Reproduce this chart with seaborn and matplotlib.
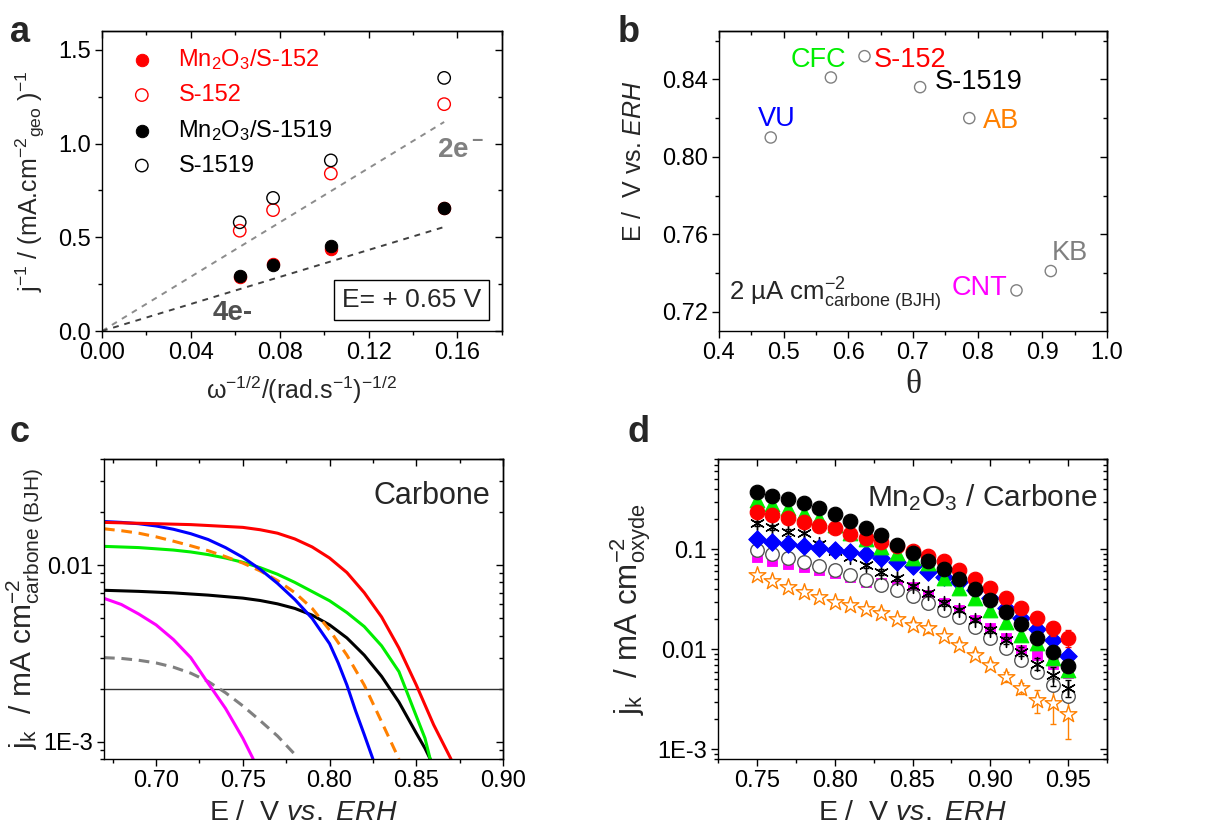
import seaborn as sns
import matplotlib.pyplot as plt
from matplotlib.ticker import MultipleLocator, LogLocator, FixedLocator, FixedFormatter, NullFormatter

sns.set_theme(style="ticks")
plt.rcParams["font.family"] = ["Liberation Sans", "DejaVu Sans"]
plt.rcParams.update({
    "mathtext.fontset": "custom",
    "mathtext.rm": "Liberation Sans",
    "mathtext.it": "Liberation Sans:italic",
    "mathtext.bf": "Liberation Sans:bold",
    "axes.linewidth": 1.0,
    "axes.edgecolor": "black",
    "xtick.color": "black",
    "ytick.color": "black",
})

TICK_FS = 17

# ---------------- (a) Koutecky-Levich ----------------
kl_x = [0.062, 0.077, 0.103, 0.154]
mn_s152 = [0.29, 0.355, 0.44, 0.655]
s152 = [0.535, 0.645, 0.84, 1.21]
mn_s1519 = [0.295, 0.35, 0.455, 0.655]
s1519 = [0.58, 0.71, 0.91, 1.35]
theory_x = [0.0, 0.154]
theory_2e = [0.0, 1.115]
theory_4e = [0.0, 0.555]

# ---------------- (b) onset potential vs theta ----------------
carbons = ["VU", "CFC", "S-152", "S-1519", "AB", "CNT", "KB"]
theta = [0.48, 0.573, 0.625, 0.711, 0.787, 0.86, 0.913]
e_onset = [0.810, 0.841, 0.852, 0.836, 0.820, 0.731, 0.741]
carbon_colors = ["#0000FF", "#00EE00", "#FF0000", "black", "#FF8000", "#FF00FF", "#808080"]

# ---------------- (c) Tafel curves, carbons ----------------
red_E = [0.67, 0.68, 0.69, 0.70, 0.71, 0.72, 0.73, 0.74, 0.75, 0.76, 0.77, 0.78, 0.79,
         0.80, 0.81, 0.82, 0.83, 0.84, 0.85, 0.86, 0.87]
red_j = [0.0175, 0.0174, 0.0173, 0.0172, 0.0171, 0.0170, 0.0168, 0.0166, 0.0164, 0.0159,
         0.0152, 0.0141, 0.0127, 0.0110, 0.0091, 0.0070, 0.0051, 0.0034, 0.0021, 0.00125, 0.0008]
blue_E = [0.67, 0.68, 0.69, 0.70, 0.71, 0.72, 0.73, 0.74, 0.75, 0.76, 0.77, 0.78, 0.79,
          0.80, 0.805, 0.81, 0.815, 0.82, 0.825]
blue_j = [0.0177, 0.0175, 0.0172, 0.0167, 0.0160, 0.0151, 0.0140, 0.0126, 0.0111, 0.0095,
          0.0079, 0.0064, 0.0050, 0.0036, 0.0028, 0.0021, 0.0015, 0.0011, 0.0008]
orange_E = [0.67, 0.68, 0.69, 0.70, 0.71, 0.72, 0.73, 0.74, 0.75, 0.76, 0.77, 0.78, 0.79,
            0.80, 0.81, 0.82, 0.83, 0.84]
orange_j = [0.0161, 0.0157, 0.0152, 0.0145, 0.0137, 0.0129, 0.0121, 0.0112, 0.0103, 0.0093,
            0.0082, 0.0070, 0.0057, 0.0043, 0.0031, 0.0021, 0.0013, 0.0008]
green_E = [0.67, 0.68, 0.69, 0.70, 0.71, 0.72, 0.73, 0.74, 0.75, 0.76, 0.77, 0.78, 0.79,
           0.80, 0.81, 0.82, 0.83, 0.84, 0.85, 0.855, 0.858]
green_j = [0.0128, 0.0127, 0.0126, 0.0124, 0.0122, 0.0119, 0.0115, 0.0110, 0.0104, 0.0097,
           0.0089, 0.0080, 0.0071, 0.0063, 0.0054, 0.0045, 0.0035, 0.0025, 0.0014, 0.00105, 0.0008]
black_E = [0.67, 0.69, 0.71, 0.73, 0.75, 0.76, 0.77, 0.78, 0.79, 0.80, 0.81, 0.82, 0.83,
           0.84, 0.85, 0.855, 0.858]
black_j = [0.00722, 0.00712, 0.00698, 0.00678, 0.00652, 0.00632, 0.00605, 0.00570, 0.00522,
           0.00460, 0.00388, 0.00310, 0.00235, 0.00168, 0.00112, 0.00092, 0.0008]
magenta_E = [0.670, 0.680, 0.690, 0.700, 0.710, 0.720, 0.730, 0.740, 0.750, 0.756]
magenta_j = [0.0065, 0.0060, 0.0053, 0.0046, 0.0038, 0.0030, 0.00215, 0.00155, 0.00105, 0.0008]
grey_E = [0.670, 0.680, 0.690, 0.700, 0.710, 0.720, 0.730, 0.740, 0.750, 0.760, 0.770, 0.780]
grey_j = [0.0030, 0.00297, 0.00290, 0.00280, 0.00265, 0.00245, 0.00220, 0.00190, 0.00160,
          0.00132, 0.00108, 0.00085]
j_threshold = 0.002

# ---------------- (d) Tafel points, Mn2O3 / carbons ----------------
E_d = [0.75, 0.76, 0.77, 0.78, 0.79, 0.80, 0.81, 0.82, 0.83, 0.84, 0.85,
       0.86, 0.87, 0.88, 0.89, 0.90, 0.91, 0.92, 0.93, 0.94, 0.95]
d_black = [0.378, 0.344, 0.319, 0.293, 0.257, 0.224, 0.192, 0.162, 0.140, 0.110, 0.0926,
           0.077, 0.063, 0.0505, 0.0398, 0.0311, 0.0234, 0.0178, 0.0129, 0.0095, 0.0068]
d_red = [0.238, 0.219, 0.204, 0.189, 0.172, 0.162, 0.1435, 0.131, 0.119, 0.108, 0.097,
         0.0865, 0.077, 0.0616, 0.050, 0.0407, 0.0324, 0.0257, 0.0204, 0.0162, 0.0130]
d_red_err = [0.02, 0.018, 0.016, 0.015, 0.013, 0.012, 0.011, 0.010, 0.009, 0.008, 0.007,
             0.006, 0.006, 0.005, 0.004, 0.004, 0.004, 0.003, 0.003, 0.0025, 0.0025]
d_green = [0.311, 0.284, 0.261, 0.229, 0.204, 0.175, 0.1445, 0.126, 0.106, 0.0912, 0.0813,
           0.0724, 0.0513, 0.0407, 0.0324, 0.0247, 0.0189, 0.0139, 0.0115, 0.0081, 0.0062]
d_aster = [0.182, 0.166, 0.148, 0.145, 0.113, 0.0963, 0.0845, 0.0697, 0.0598, 0.0513, 0.043,
           0.0363, 0.0293, 0.0247, 0.0197, 0.0156, 0.0124, 0.0095, 0.0072, 0.0055, 0.0041]
d_aster_err = [0.01, 0.01, 0.012, 0.04, 0.008, 0.006, 0.005, 0.004, 0.004, 0.003, 0.002,
               0.002, 0.002, 0.001, 0.001, 0.001, 0.001, 0.001, 0.001, 0.0012, 0.0008]
d_blue = [0.126, 0.1175, 0.112, 0.108, 0.104, 0.0985, 0.0948, 0.0891, 0.0826, 0.0753, 0.0681,
          0.0598, 0.0533, 0.0475, 0.0392, 0.0324, 0.0257, 0.0204, 0.0158, 0.0124, 0.0086]
d_open = [0.0985, 0.0891, 0.0826, 0.0753, 0.0681, 0.0621, 0.0554, 0.0494, 0.044, 0.0392, 0.0341,
          0.0293, 0.0247, 0.0212, 0.0169, 0.0129, 0.0102, 0.0078, 0.0060, 0.0044, 0.0034]
d_magenta = [0.0845, 0.0764, 0.0714, 0.0671, 0.0621, 0.0575, 0.0533, 0.0475, 0.0457, 0.0440, 0.0420,
             0.0349, 0.0288, 0.0247, 0.0197, 0.0162, 0.0129, 0.0098, 0.0088, 0.0072, 0.0058]
d_star = [0.0554, 0.0486, 0.0423, 0.0377, 0.0331, 0.030, 0.0278, 0.0251, 0.0233, 0.020, 0.0175,
          0.0162, 0.0136, 0.0110, 0.0088, 0.0070, 0.0053, 0.0041, 0.0031, 0.0029, 0.00226]
d_star_err = [0.003, 0.003, 0.003, 0.002, 0.002, 0.002, 0.002, 0.002, 0.002, 0.0015, 0.0015,
              0.0015, 0.001, 0.001, 0.0008, 0.0007, 0.0006, 0.0005, 0.0008, 0.0011, 0.0010]


def style_axes(ax, xmaj, xmin, ymaj=None, ymin=None, ylog=False):
    for s in ax.spines.values():
        s.set_visible(True)
        s.set_linewidth(1.0)
        s.set_color("black")
    ax.tick_params(which="both", direction="out", top=False, right=False,
                   labelsize=TICK_FS, width=1.0, pad=3)
    ax.tick_params(which="major", length=5)
    ax.tick_params(which="minor", length=3)
    ax.xaxis.set_major_locator(MultipleLocator(xmaj))
    ax.xaxis.set_minor_locator(MultipleLocator(xmin))
    if not ylog:
        ax.yaxis.set_major_locator(MultipleLocator(ymaj))
        ax.yaxis.set_minor_locator(MultipleLocator(ymin))
    # mirrored ticks pointing inward on top / right
    top = ax.secondary_xaxis("top")
    top.xaxis.set_major_locator(MultipleLocator(xmaj))
    top.xaxis.set_minor_locator(MultipleLocator(xmin))
    top.tick_params(which="both", direction="in", labeltop=False, width=1.0)
    top.tick_params(which="major", length=5)
    top.tick_params(which="minor", length=3)
    right = ax.secondary_yaxis("right")
    if ylog:
        right.yaxis.set_major_locator(LogLocator(base=10))
        right.yaxis.set_minor_locator(LogLocator(base=10, subs=range(2, 10)))
        right.yaxis.set_minor_formatter(NullFormatter())
    else:
        right.yaxis.set_major_locator(MultipleLocator(ymaj))
        right.yaxis.set_minor_locator(MultipleLocator(ymin))
    right.tick_params(which="both", direction="in", labelright=False, width=1.0)
    right.tick_params(which="major", length=5)
    right.tick_params(which="minor", length=3)


fig = plt.figure(figsize=(12.18, 8.27), dpi=100)
ax_a = fig.add_axes([0.0837, 0.5997, 0.3284, 0.3628])
ax_b = fig.add_axes([0.5903, 0.5997, 0.3186, 0.3628])
ax_c = fig.add_axes([0.0854, 0.0822, 0.3276, 0.3628])
ax_d = fig.add_axes([0.5895, 0.0822, 0.3194, 0.3628])

# ---------- panel a ----------
sns.lineplot(x=theory_x, y=theory_2e, ax=ax_a, color="#8c8c8c", lw=1.4,
             linestyle=(0, (3, 3)), zorder=1)
sns.lineplot(x=theory_x, y=theory_4e, ax=ax_a, color="#404040", lw=1.4,
             linestyle=(0, (3, 3)), zorder=1)
sns.scatterplot(x=kl_x, y=mn_s152, ax=ax_a, marker="o", s=80, color="#FF0000",
                edgecolor="#FF0000", label=r"Mn$_2$O$_3$/S-152", zorder=3)
sns.scatterplot(x=kl_x, y=s152, ax=ax_a, marker="o", s=80, fc="none",
                ec="#FF0000", linewidth=1.0, label="S-152", zorder=3)
sns.scatterplot(x=kl_x, y=mn_s1519, ax=ax_a, marker="o", s=80, color="black",
                edgecolor="black", label=r"Mn$_2$O$_3$/S-1519", zorder=4)
sns.scatterplot(x=kl_x, y=s1519, ax=ax_a, marker="o", s=80, fc="none",
                ec="black", linewidth=1.0, label="S-1519", zorder=3)
ax_a.set_xlim(0, 0.18)
ax_a.set_ylim(0, 1.6)
style_axes(ax_a, 0.04, 0.02, 0.5, 0.25)
ax_a.xaxis.set_major_formatter(plt.FuncFormatter(lambda v, p: f"{v:.2f}"))
ax_a.yaxis.set_major_formatter(plt.FuncFormatter(lambda v, p: f"{v:.1f}"))
ax_a.legend(loc="upper left", bbox_to_anchor=(0.02, 1.0), frameon=False,
            fontsize=17, handletextpad=0.9, labelspacing=0.5,
            borderaxespad=0.3, handlelength=1.3,
            labelcolor=["#FF0000", "#FF0000", "black", "black"])
ax_a.text(0.151, 0.93, "2e$^{\\bf -}$", color="#808080", fontsize=20,
          fontweight="bold", ha="left", va="baseline")
ax_a.text(0.050, 0.06, "4e-", color="#505050", fontsize=20,
          fontweight="bold", ha="left", va="baseline")
ax_a.text(0.775, 0.103, "E= + 0.65 V", transform=ax_a.transAxes, fontsize=19,
          ha="center", va="center",
          bbox=dict(boxstyle="square,pad=0.3", fc="white", ec="black", lw=1.0))
ax_a.set_ylabel(r"j$^{-1}$ / (mA.cm$^{-2}$$_{\mathrm{geo}}$ )$^{-1}$",
                fontsize=18, labelpad=8)
ax_a.set_xlabel(r"ω$^{-1/2}$/(rad.s$^{-1}$)$^{-1/2}$", fontsize=18, labelpad=7)

# ---------- panel b ----------
sns.scatterplot(x=theta, y=e_onset, ax=ax_b, marker="o", s=65, fc="none",
                ec="#808080", linewidth=1.0, zorder=3)
label_offsets = [(-8.9, 8.4), (-28.8, 7.2), (7.0, -7.7), (10.3, -1.2),
                 (9.8, -7.4), (-6.5, -3.6), (0.7, 7.7)]
for name, x, y, c, off in zip(carbons, theta, e_onset, carbon_colors, label_offsets):
    ax_b.annotate(name, (x, y), xytext=off, textcoords="offset points",
                  color=c, fontsize=19.5, ha="right" if name == "CNT" else "left",
                  va="baseline")
ax_b.text(0.415, 0.7257, r"2 µA cm$^{-2}_{\mathrm{carbone\ (BJH)}}$", fontsize=18.5,
          ha="left", va="baseline")
ax_b.set_xlim(0.4, 1.0)
ax_b.set_ylim(0.71, 0.865)
style_axes(ax_b, 0.1, 0.05, 0.04, 0.02)
ax_b.xaxis.set_major_formatter(plt.FuncFormatter(lambda v, p: f"{v:.1f}"))
ax_b.yaxis.set_major_formatter(plt.FuncFormatter(lambda v, p: f"{v:.2f}"))
ax_b.set_ylabel(r"E /  V vs. $\mathit{ERH}$", fontsize=18)
ax_b.yaxis.set_label_coords(-0.188, 0.567)
ax_b.set_xlabel("θ", fontsize=24, family=["Liberation Serif", "DejaVu Serif"], labelpad=4)

# ---------- panel c ----------
ax_c.set_yscale("log")
ax_c.axhline(j_threshold, color="#333333", lw=1.0, zorder=1)
curves = [
    (grey_E, grey_j, "#808080", (0, (3.5, 2.2))),
    (magenta_E, magenta_j, "#FF00FF", "-"),
    (black_E, black_j, "black", "-"),
    (green_E, green_j, "#00EE00", "-"),
    (orange_E, orange_j, "#FF8000", (0, (3.5, 2.2))),
    (blue_E, blue_j, "#0000FF", "-"),
    (red_E, red_j, "#FF0000", "-"),
]
for xs, ys, c, ls in curves:
    sns.lineplot(x=xs, y=ys, ax=ax_c, color=c, lw=2.2, linestyle=ls, sort=False, zorder=2)
ax_c.set_xlim(0.67, 0.90)
ax_c.set_ylim(8e-4, 0.04)
style_axes(ax_c, 0.05, 0.025, ylog=True)
ax_c.yaxis.set_major_locator(FixedLocator([1e-3, 1e-2]))
ax_c.yaxis.set_major_formatter(FixedFormatter(["1E-3", "0.01"]))
ax_c.yaxis.set_minor_locator(LogLocator(base=10, subs=range(2, 10)))
ax_c.yaxis.set_minor_formatter(NullFormatter())
ax_c.xaxis.set_major_formatter(plt.FuncFormatter(lambda v, p: f"{v:.2f}"))
ax_c.text(0.967, 0.849, "Carbone", transform=ax_c.transAxes, fontsize=22,
          ha="right", va="baseline")
ax_c.set_ylabel(r"j$_\mathrm{k}$  / mA cm$^{-2}_{\mathrm{carbone\ (BJH)}}$",
                fontsize=21.5)
ax_c.yaxis.set_label_coords(-0.148, 0.5)
ax_c.set_xlabel(r"E /  V $\mathit{vs.\ ERH}$", fontsize=20.5, labelpad=6)

# ---------- panel d ----------
ax_d.set_yscale("log")
ax_d.errorbar(E_d, d_star, yerr=d_star_err, fmt="none", ecolor="#FF8000",
              elinewidth=1.0, capsize=2, zorder=2)
sns.scatterplot(x=E_d, y=d_star, ax=ax_d, marker="*", s=160, fc="white",
                ec="#FF8000", linewidth=1.0, zorder=3)
sns.scatterplot(x=E_d, y=d_magenta, ax=ax_d, marker="s", s=60, color="#FF00FF",
                edgecolor="#FF00FF", zorder=4)
sns.scatterplot(x=E_d, y=d_open, ax=ax_d, marker="o", s=95, fc="white",
                ec="#555555", linewidth=1.0, zorder=5)
ax_d.errorbar(E_d, d_aster, yerr=d_aster_err, fmt="none", ecolor="black",
              elinewidth=1.0, capsize=2, zorder=6)
sns.scatterplot(x=E_d, y=d_aster, ax=ax_d, marker=(6, 2, 0), s=100, color="black",
                linewidth=1.0, zorder=6)
sns.scatterplot(x=E_d, y=d_blue, ax=ax_d, marker="D", s=80, color="#0000FF",
                edgecolor="#0000FF", zorder=7)
sns.scatterplot(x=E_d, y=d_green, ax=ax_d, marker="^", s=110, color="#00EE00",
                edgecolor="#00EE00", zorder=8)
ax_d.errorbar(E_d, d_red, yerr=d_red_err, fmt="none", ecolor="#FF0000",
              elinewidth=1.0, capsize=2, zorder=9)
sns.scatterplot(x=E_d, y=d_red, ax=ax_d, marker="o", s=110, color="#FF0000",
                edgecolor="#FF0000", zorder=9)
sns.scatterplot(x=E_d, y=d_black, ax=ax_d, marker="o", s=110, color="black",
                edgecolor="black", zorder=10)
ax_d.set_xlim(0.725, 0.975)
ax_d.set_ylim(8e-4, 0.8)
style_axes(ax_d, 0.05, 0.025, ylog=True)
ax_d.yaxis.set_major_locator(FixedLocator([1e-3, 1e-2, 1e-1]))
ax_d.yaxis.set_major_formatter(FixedFormatter(["1E-3", "0.01", "0.1"]))
ax_d.yaxis.set_minor_locator(LogLocator(base=10, subs=range(2, 10)))
ax_d.yaxis.set_minor_formatter(NullFormatter())
ax_d.xaxis.set_major_formatter(plt.FuncFormatter(lambda v, p: f"{v:.2f}"))
ax_d.text(0.974, 0.841, r"Mn$_2$O$_3$ / Carbone", transform=ax_d.transAxes,
          fontsize=21.5, ha="right", va="baseline")
ax_d.set_ylabel(r"j$_\mathrm{k}$  / mA cm$^{-2}_{\mathrm{oxyde}}$", fontsize=22.5, labelpad=3)
ax_d.set_xlabel(r"E /  V $\mathit{vs.\ ERH}$", fontsize=20.5, labelpad=6)

# panel letters
for letter, x, y in [("a", 0.008, 0.949), ("b", 0.507, 0.949),
                     ("c", 0.008, 0.4655), ("d", 0.515, 0.4655)]:
    fig.text(x, y, letter, fontsize=26, fontweight="bold", ha="left", va="baseline")

fig.savefig("out.png", dpi=100)
